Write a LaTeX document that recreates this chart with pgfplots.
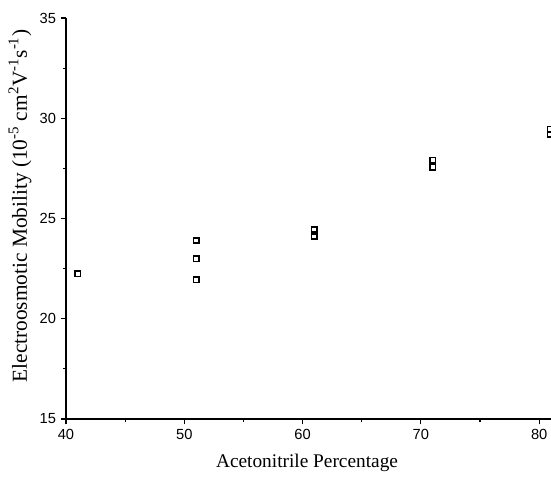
\documentclass[border=0pt]{standalone}
\usepackage{pgfplots}
\pgfplotsset{compat=1.18}
\usepackage{fontspec}
\setmainfont{Liberation Serif}
\newfontfamily\ticksf{Liberation Sans}
\begin{document}
\begin{tikzpicture}
\begin{axis}[
  at={(0,0)}, anchor=south west,
  scale only axis,
  width=363.75pt, height=300.75pt,
  xmin=40, xmax=81.0,
  ymin=15, ymax=35,
  axis x line*=bottom, axis y line*=left,
  axis line style={line width=1.3pt},
  xtick={40,50,60,70,80},
  ytick={15,20,25,30,35},
  minor tick num=1,
  tick align=outside,
  major tick length=4pt, minor tick length=2.5pt,
  tick style={line width=0.9pt, black},
  /pgf/number format/assume math mode=true,
  ticklabel style={font=\ticksf\fontsize{11}{13}\selectfont},
  xlabel={Acetonitrile Percentage},
  ylabel={Electroosmotic Mobility (10\textsuperscript{-5} cm\textsuperscript{2}V\textsuperscript{-1}s\textsuperscript{-1})},
  xlabel style={font=\fontsize{14.5}{16}\selectfont, at={(axis description cs:0.497,-0.11)}, anchor=center},
  ylabel style={font=\fontsize{16}{18}\selectfont, at={(axis description cs:-0.0948,0.531)}, anchor=center},
  clip marker paths=true,
]
\addplot[only marks, mark=square, mark size=2pt, mark options={line width=1.1pt, black}]
coordinates {
(41,22.25)
(51,23.9) (51,23.0) (51,21.95)
(61,24.45) (61,24.1)
(71,27.9) (71,27.55)
(80.95,29.45) (80.95,29.2)
};
\end{axis}
\pgfresetboundingbox
\path[use as bounding box] (-49.5pt,-42.75pt) rectangle (363.75pt,314.25pt);
\end{tikzpicture}
\end{document}
